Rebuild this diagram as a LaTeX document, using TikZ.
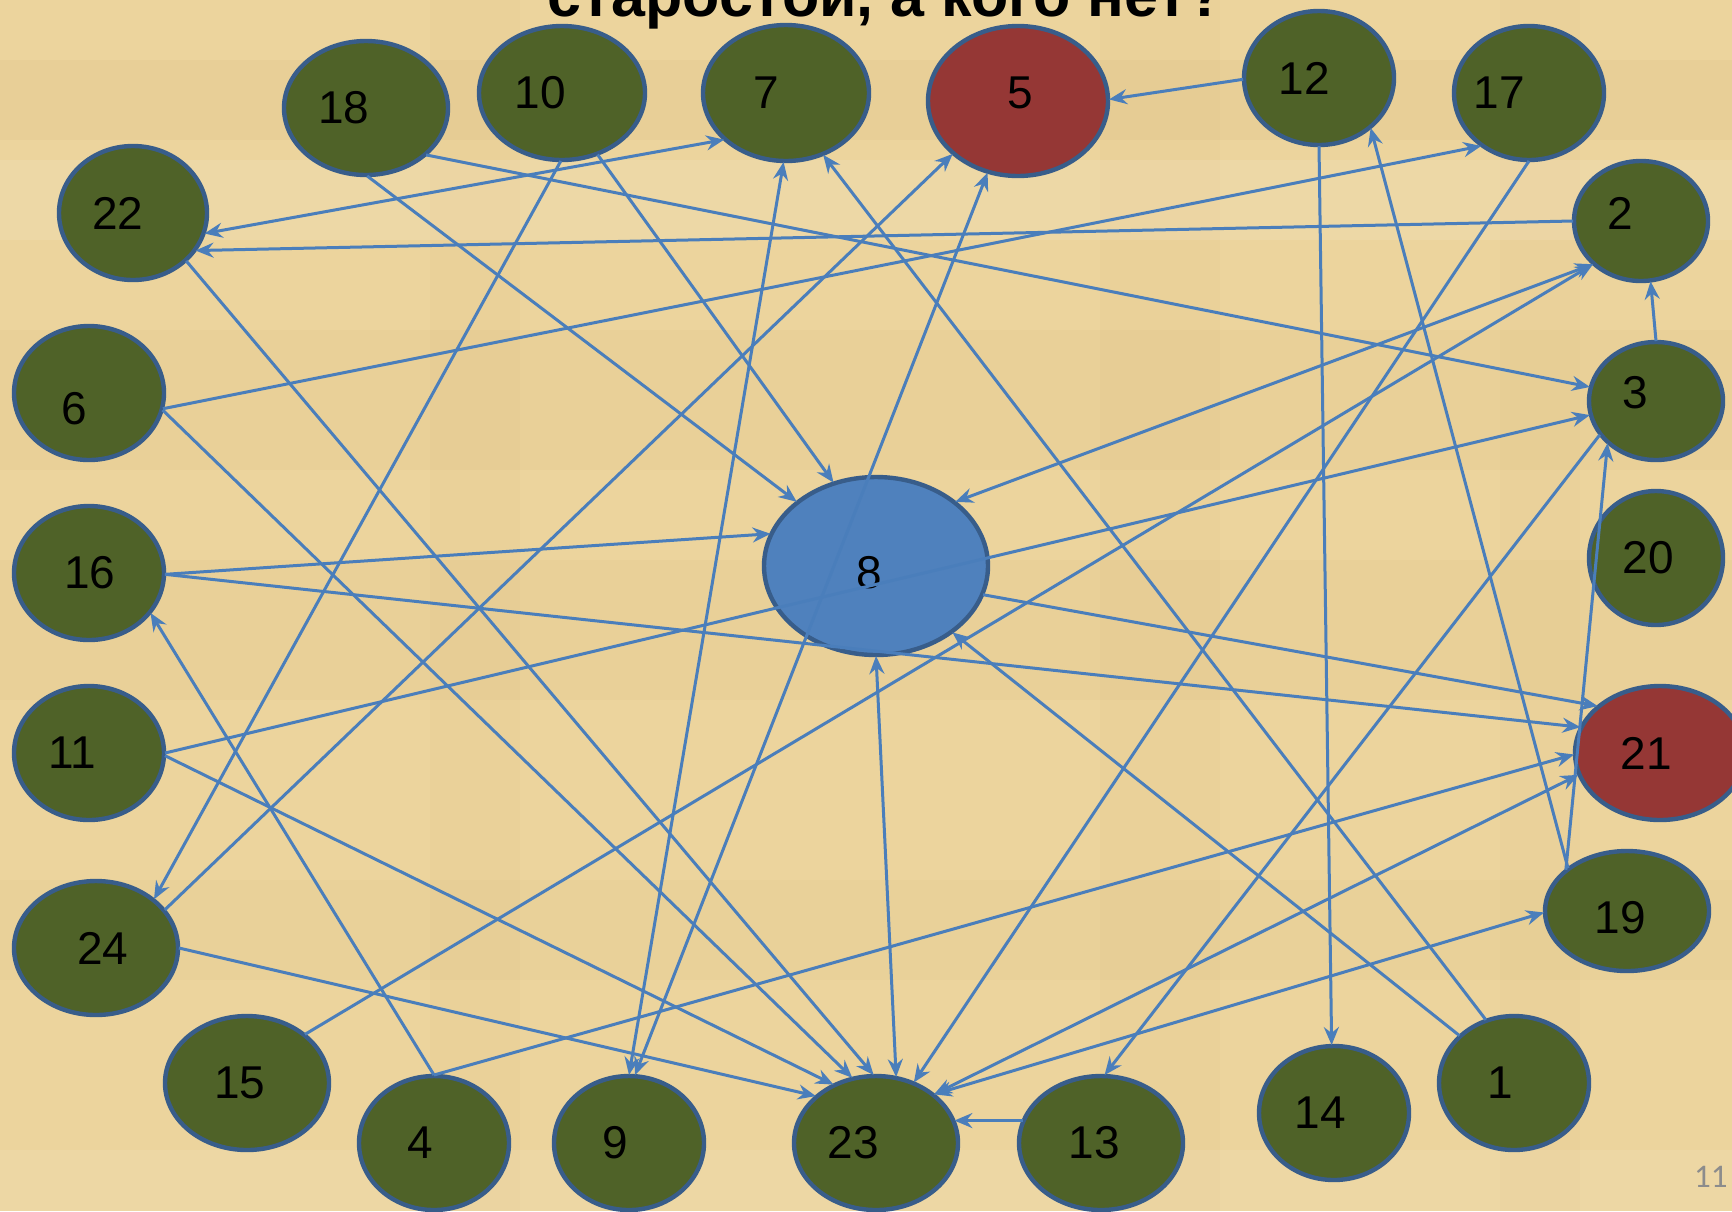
\documentclass[tikz,border=0pt]{standalone}
\usepackage{fontspec}
\setmainfont{Liberation Sans}
\newfontfamily\pgnumfont{Carlito}
\usetikzlibrary{shapes.geometric,arrows.meta}
\definecolor{bgtan}{RGB}{236,212,157}
\definecolor{bgdark}{RGB}{205,170,105}
\definecolor{nodegreen}{RGB}{79,98,40}
\definecolor{nodered}{RGB}{149,55,53}
\definecolor{nodeblue}{RGB}{79,129,189}
\definecolor{nodeborder}{RGB}{56,93,138}
\definecolor{edgeblue}{RGB}{74,126,187}
\definecolor{pggray}{RGB}{140,140,140}
\tikzset{
  vx/.style={ellipse, draw=nodeborder, line width=2.2pt, inner sep=0pt, outer sep=0.5pt, fill=nodegreen},
  redvx/.style={vx, fill=nodered},
  bluevx/.style={vx, fill=nodeblue},
  sz/.style 2 args={minimum width=#1pt, minimum height=#2pt},
  lab/.style={font=\fontsize{23}{23}\selectfont, text=black, inner sep=0pt},
  edge/.style={draw=edgeblue, line width=1.5pt,
    >={Stealth[length=9pt,width=7.5pt,inset=3pt]}},
}
\begin{document}
\begin{tikzpicture}[x=0.5pt,y=-0.5pt]
\useasboundingbox (0,0) rectangle (1732,1211);
\clip (0,0) rectangle (1732,1211);
\fill[bgtan] (0,0) rectangle (1732,1211);
% parchment mottling
\fill[bgdark, opacity=0.10] (0,60) rectangle (1732,140);
\fill[bgdark, opacity=0.08] (0,330) rectangle (1732,470);
\fill[bgdark, opacity=0.08] (0,560) rectangle (1732,700);
\fill[bgdark, opacity=0.07] (0,880) rectangle (1732,980);
\fill[bgdark, opacity=0.06] (430,0) rectangle (520,1211);
\fill[bgdark, opacity=0.06] (1100,0) rectangle (1220,1211);
\fill[bgdark, opacity=0.05] (1500,0) rectangle (1580,1211);
\fill[white, opacity=0.10] (0,160) rectangle (1732,240);
\fill[white, opacity=0.08] (0,1150) rectangle (1732,1211);

% title (cut by the top edge, as in the reference)
\node[font=\bfseries\fontsize{30.5}{30.5}\selectfont, anchor=base, inner sep=0pt] (title) at (886,16) {старостой, а кого нет?};

% nodes
\node[vx, sz={82}{67}, label={[lab,xshift=-11pt]center:18}] (n18) at (366,108) {};
\node[vx, sz={83}{67}, label={[lab,xshift=-11pt]center:10}] (n10) at (562,93) {};
\node[vx, sz={83}{68}, label={[lab,xshift=-10pt]center:7}] (n7) at (786,93) {};
\node[redvx, sz={90}{75}, label={[lab,xshift=1pt,yshift=4pt]center:5}] (n5) at (1018,101) {};
\node[vx, sz={75}{67}, label={[lab,xshift=-7.5pt]center:12}] (n12) at (1319,78) {};
\node[vx, sz={75}{67}, label={[lab,xshift=-15pt]center:17}] (n17) at (1529,93) {};
\node[vx, sz={74}{67}, label={[lab,xshift=-7.5pt]center:22}] (n22) at (133,213) {};
\node[vx, sz={67}{60}, label={[lab,xshift=-10.5pt,yshift=4pt]center:2}] (n2) at (1641,221) {};
\node[vx, sz={75}{67}, label={[lab,xshift=-7.5pt,yshift=-8pt]center:6}] (n6) at (89,393) {};
\node[vx, sz={67}{59}, label={[lab,xshift=-10.5pt,yshift=4pt]center:3}] (n3) at (1656,401) {};
\node[vx, sz={75}{67}, label={[lab,xshift=0.5pt]center:16}] (n16) at (89,573) {};
\node[bluevx, sz={112}{89}, label={[lab,xshift=-3.5pt,yshift=-3.5pt]center:8}] (n8) at (876,566) {};
\node[vx, sz={67}{67}, label={[lab,xshift=-4pt]center:20}] (n20) at (1656,558) {};
\node[vx, sz={75}{67}, label={[lab,xshift=-8.5pt]center:11}] (n11) at (89,753) {};
\node[redvx, sz={85}{67}, label={[lab,xshift=-7pt]center:21}] (n21) at (1660,753) {};
\node[vx, sz={82}{67}, label={[lab,xshift=3.5pt]center:24}] (n24) at (96,948) {};
\node[vx, sz={82}{60}, label={[lab,xshift=-3.5pt,yshift=-3.5pt]center:19}] (n19) at (1627,911) {};
\node[vx, sz={82}{67}, label={[lab,xshift=-3.5pt]center:15}] (n15) at (247,1083) {};
\node[vx, sz={75}{67}, label={[lab,xshift=-7pt]center:1}] (n1) at (1514,1083) {};
\node[vx, sz={75}{67}, label={[lab,xshift=-7pt]center:14}] (n14) at (1334,1113) {};
\node[vx, sz={75}{67}, label={[lab,xshift=-7pt]center:4}] (n4) at (434,1143) {};
\node[vx, sz={75}{67}, label={[lab,xshift=-7pt]center:9}] (n9) at (629,1143) {};
\node[vx, sz={82}{67}, label={[lab,xshift=-11.5pt]center:23}] (n23) at (876,1143) {};
\node[vx, sz={82}{67}, label={[lab,xshift=-3.5pt]center:13}] (n13) at (1101,1143) {};

% connectors
\draw[edge,->] (n12.181) -- (n5.1);
\draw[edge,->] (n18.-38) -- (n3.168);
\draw[edge,->] (n18.-89) -- (n8.141);
\draw[edge,->] (n10.-60) -- (n8.117);
\draw[edge,->] (n10.-91) -- (n24.40);
\draw[edge,<->] (n22.-16) -- (n7.217);
\draw[edge,->] (n2.180) -- (n22.-31);
\draw[edge,->] (n6.-12) -- (n17.228);
\draw[edge,->] (n6.-13) -- (n23.110);
\draw[edge,->] (n16.-1) -- (n8.163);
\draw[edge,->] (n16.-1) -- (n21.162);
\draw[edge,->] (n4.90) -- (n16.-33);
\draw[edge,->] (n4.90) -- (n21.181);
\draw[edge,->] (n11.0) -- (n3.192);
\draw[edge,->] (n11.-2) -- (n23.126);
\draw[edge,->] (n24.29) -- (n5.219);
\draw[edge,->] (n24.0) -- (n23.142);
\draw[edge,->] (n15.40) -- (n2.222);
\draw[edge,<->] (n8.39) -- (n2.222);
\draw[edge,->] (n22.-42) -- (n23.92);
\draw[edge,<->] (n8.270) -- (n23.73);
\draw[edge,->] (n17.270) -- (n23.58);
\draw[edge,->] (n3.211) -- (n13.87);
\draw[edge,->] (n13.164) -- (n23.16);
\draw[edge,<->] (n23.40) -- (n21.195);
\draw[edge,<->] (n23.40) -- (n19.181);
\draw[edge,->] (n12.270) -- (n14.92);
\draw[edge,->] (n19.144) -- (n12.-44);
\draw[edge,->] (n19.146) -- (n3.221);
\draw[edge,->] (n3.90) -- (n2.279);
\draw[edge,->] (n1.114) -- (n7.-59);
\draw[edge,->] (n1.139) -- (n8.-41);
\draw[edge,->] (n8.-15) -- (n21.143);
\draw[edge,<->] (n7.268) -- (n9.90);
\draw[edge,<->] (n5.247) -- (n9.85);

% page number
\node[font=\pgnumfont\fontsize{16.5}{16.5}\selectfont, text=pggray, anchor=base east, inner sep=0pt] (pgnum) at (1728,1187) {11};
\end{tikzpicture}
\end{document}
